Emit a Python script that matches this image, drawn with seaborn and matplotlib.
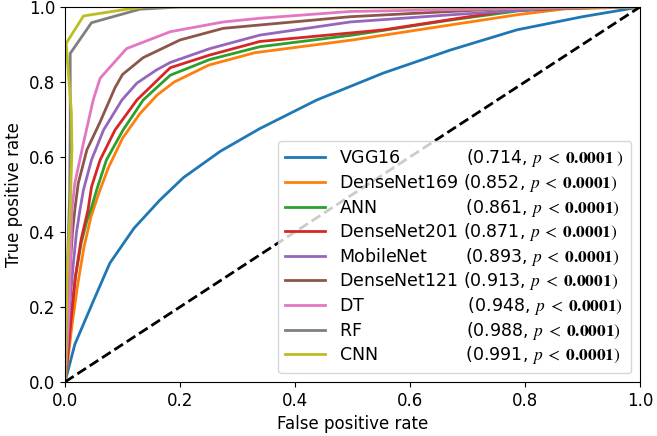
import numpy as np
import pandas as pd
import seaborn as sns
import matplotlib
matplotlib.use("Agg")
import matplotlib.pyplot as plt

plt.rcParams["mathtext.fontset"] = "stix"
plt.rcParams["font.size"] = 12

models = ["VGG16", "DenseNet169", "ANN", "DenseNet201", "MobileNet",
          "DenseNet121", "DT", "RF", "CNN"]
aucs = ["0.714", "0.852", "0.861", "0.871", "0.893", "0.913", "0.948", "0.988", "0.991"]
pads = [12, 1, 16, 1, 7, 1, 19, 19, 16]

fpr_vgg16 = [0, 0.017, 0.049, 0.078, 0.12, 0.165, 0.206, 0.27, 0.338, 0.438, 0.554, 0.67, 0.786, 0.9, 1.0]
tpr_vgg16 = [0, 0.1, 0.215, 0.317, 0.41, 0.485, 0.545, 0.615, 0.675, 0.752, 0.824, 0.885, 0.939, 0.974, 1.0]

fpr_dn169 = [0, 0.005, 0.012, 0.022, 0.033, 0.045, 0.058, 0.075, 0.1, 0.13, 0.16, 0.19, 0.25, 0.33, 0.5, 0.67, 0.79, 0.87, 1.0]
tpr_dn169 = [0, 0.06, 0.15, 0.26, 0.36, 0.44, 0.5, 0.57, 0.65, 0.715, 0.765, 0.8, 0.845, 0.878, 0.912, 0.952, 0.98, 0.995, 1.0]

fpr_ann = [0, 0.004, 0.01, 0.018, 0.028, 0.038, 0.046, 0.055, 0.072, 0.101, 0.136, 0.183, 0.252, 0.339, 0.5, 0.67, 0.79, 0.87, 1.0]
tpr_ann = [0, 0.07, 0.17, 0.28, 0.37, 0.43, 0.465, 0.512, 0.592, 0.672, 0.752, 0.818, 0.86, 0.894, 0.925, 0.965, 0.99, 0.997, 1.0]

fpr_dn201 = [0, 0.004, 0.01, 0.018, 0.028, 0.04, 0.046, 0.061, 0.087, 0.125, 0.183, 0.252, 0.339, 0.554, 0.77, 0.87, 1.0]
tpr_dn201 = [0, 0.06, 0.16, 0.28, 0.38, 0.459, 0.52, 0.592, 0.672, 0.752, 0.838, 0.872, 0.908, 0.939, 0.99, 0.997, 1.0]

fpr_mobile = [0, 0.003, 0.008, 0.014, 0.02, 0.026, 0.032, 0.046, 0.067, 0.099, 0.125, 0.159, 0.183, 0.252, 0.339, 0.496, 0.67, 0.85, 1.0]
tpr_mobile = [0, 0.08, 0.2, 0.31, 0.4, 0.459, 0.512, 0.592, 0.672, 0.752, 0.797, 0.832, 0.852, 0.889, 0.925, 0.96, 0.979, 0.997, 1.0]

fpr_dn121 = [0, 0.002, 0.005, 0.009, 0.013, 0.017, 0.023, 0.038, 0.06, 0.087, 0.1, 0.136, 0.2, 0.275, 0.339, 0.496, 0.67, 0.8, 1.0]
tpr_dn121 = [0, 0.08, 0.2, 0.31, 0.4, 0.459, 0.53, 0.619, 0.69, 0.785, 0.82, 0.865, 0.912, 0.943, 0.952, 0.974, 0.988, 0.998, 1.0]

fpr_dt = [0, 0.003, 0.0075, 0.01, 0.012, 0.017, 0.032, 0.049, 0.061, 0.107, 0.183, 0.275, 0.339, 0.496, 0.785, 1.0]
tpr_dt = [0, 0.085, 0.22, 0.36, 0.459, 0.53, 0.637, 0.752, 0.81, 0.889, 0.934, 0.96, 0.97, 0.988, 0.996, 1.0]

fpr_rf = [0, 0.002, 0.004, 0.008, 0.009, 0.009, 0.046, 0.13, 0.2, 1.0]
tpr_rf = [0, 0.15, 0.3, 0.5, 0.7, 0.876, 0.958, 0.994, 1.0, 1.0]

fpr_cnn = [0, 0.002, 0.004, 0.009, 0.012, 0.011, 0.006, 0.002, 0.032, 0.107, 0.14, 1.0]
tpr_cnn = [0, 0.15, 0.3, 0.46, 0.62, 0.72, 0.82, 0.903, 0.976, 0.994, 1.0, 1.0]

curves = [(fpr_vgg16, tpr_vgg16), (fpr_dn169, tpr_dn169), (fpr_ann, tpr_ann),
          (fpr_dn201, tpr_dn201), (fpr_mobile, tpr_mobile), (fpr_dn121, tpr_dn121),
          (fpr_dt, tpr_dt), (fpr_rf, tpr_rf), (fpr_cnn, tpr_cnn)]

labels = []
frames = []
for name, auc, pad, (fpr, tpr) in zip(models, aucs, pads, curves):
    tail = r"\ )" if name == "VGG16" else ")"
    lab = name + " " * pad + f"({auc}, " + r"$p\;<\;\mathbf{0.0001}" + tail + "$"
    labels.append(lab)
    frames.append(pd.DataFrame({"fpr": fpr, "tpr": tpr, "model": lab}))
df = pd.concat(frames, ignore_index=True)

fig = plt.figure(figsize=(6.57, 4.36), dpi=100)
ax = fig.add_axes([0.099, 0.124, 0.875, 0.86])

sns.lineplot(data=df, x="fpr", y="tpr", hue="model", hue_order=labels,
             palette=sns.color_palette("tab10", 9), estimator=None, sort=False,
             linewidth=2, ax=ax)
ax.plot([0, 1], [0, 1], "k--", lw=2)

ax.set_xlim(0, 1)
ax.set_ylim(0, 1)
ax.set_xlabel("False positive rate")
ax.set_ylabel("True positive rate")
sns.move_legend(ax, "lower right", title=None, fontsize=12.5, handlelength=2.3,
                labelspacing=0.15, frameon=True)

fig.savefig("out.png", dpi=100)
